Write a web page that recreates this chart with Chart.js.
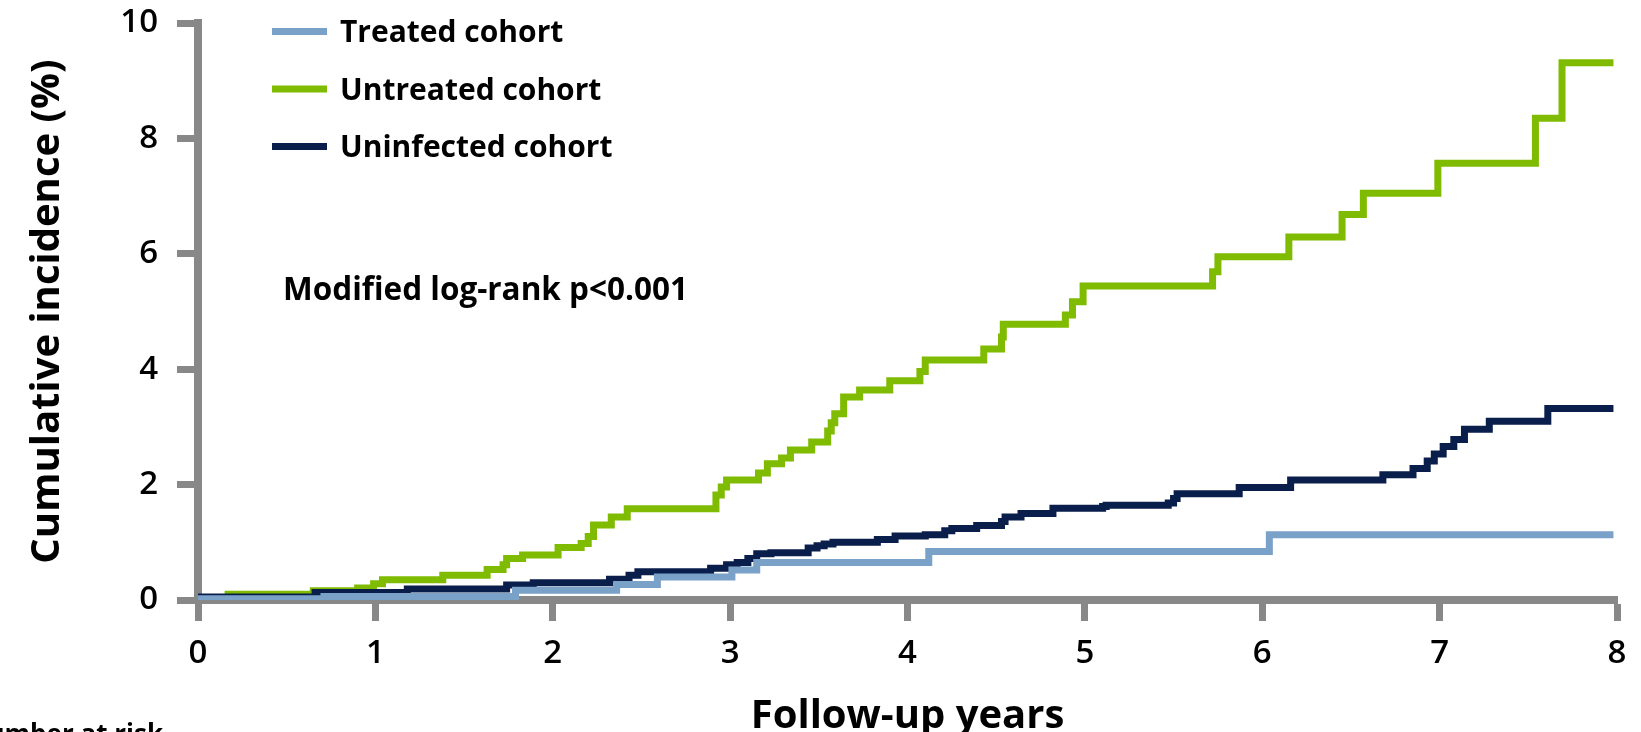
<!DOCTYPE html>
<html>
<head>
<meta charset="utf-8">
<script src="https://cdn.jsdelivr.net/npm/chart.js@4/dist/chart.umd.min.js"></script>
<style>
  html, body { margin: 0; padding: 0; background: #ffffff; overflow: hidden; }
  #wrap { position: relative; width: 1641px; height: 732px; }
</style>
</head>
<body>
<div id="wrap"><canvas id="chart" width="1641" height="732"></canvas></div>
<script>
// Cumulative incidence by cohort (Kaplan-Meier style step curves)
const seriesNames = ['Treated cohort', 'Untreated cohort', 'Uninfected cohort'];
const seriesColors = ['#7aa1c7', '#7fbb00', '#0a1e4b'];

// Event times (years) and cumulative incidence (%) after each step
const treatedYears = [0, 0.71, 1.79, 2.36, 2.59, 3.01, 3.15, 4.12, 6.04, 7.98];
const treatedPct   = [0.02, 0.06, 0.17, 0.27, 0.40, 0.52, 0.65, 0.84, 1.13, 1.13];

const untreatedYears = [0.15, 0.65, 0.90, 0.99, 1.04, 1.38, 1.63, 1.72, 1.74, 1.83,
  2.03, 2.16, 2.20, 2.23, 2.33, 2.42, 2.92, 2.95, 2.98, 3.16,
  3.21, 3.29, 3.34, 3.46, 3.55, 3.57, 3.59, 3.64, 3.73, 3.90,
  4.07, 4.10, 4.43, 4.53, 4.54, 4.89, 4.93, 4.99, 5.72, 5.75,
  6.15, 6.45, 6.57, 6.99, 7.54, 7.69, 7.98];
const untreatedPct = [0.10, 0.16, 0.21, 0.28, 0.35, 0.43, 0.53, 0.61, 0.72, 0.78,
  0.91, 0.98, 1.10, 1.30, 1.44, 1.58, 1.82, 1.96, 2.08, 2.20,
  2.36, 2.46, 2.60, 2.74, 2.93, 3.07, 3.23, 3.52, 3.64, 3.80,
  3.96, 4.16, 4.35, 4.56, 4.78, 4.94, 5.17, 5.44, 5.69, 5.95,
  6.29, 6.68, 7.05, 7.57, 8.35, 9.31, 9.31];

const uninfectedYears = [0, 0.66, 1.18, 1.74, 1.89, 2.32, 2.43, 2.48, 2.89, 2.98,
  3.04, 3.10, 3.15, 3.23, 3.44, 3.49, 3.53, 3.58, 3.83, 3.93,
  4.10, 4.21, 4.25, 4.39, 4.53, 4.55, 4.64, 4.82, 5.10, 5.12,
  5.47, 5.50, 5.52, 5.87, 6.16, 6.68, 6.85, 6.93, 6.97, 7.02,
  7.08, 7.14, 7.28, 7.61, 7.98];
const uninfectedPct = [0.05, 0.13, 0.19, 0.26, 0.30, 0.36, 0.43, 0.49, 0.55, 0.61,
  0.65, 0.72, 0.80, 0.82, 0.90, 0.94, 0.97, 1.00, 1.05, 1.11,
  1.13, 1.20, 1.24, 1.29, 1.36, 1.44, 1.50, 1.59, 1.62, 1.64,
  1.68, 1.76, 1.84, 1.95, 2.08, 2.17, 2.28, 2.41, 2.53, 2.66,
  2.78, 2.96, 3.10, 3.32, 3.32];

const xTickValues = [0, 1, 2, 3, 4, 5, 6, 7, 8];
const yTickValues = [0, 2, 4, 6, 8, 10];

const xTitle = 'Follow-up years';
const yTitle = 'Cumulative incidence (%)';
const pValueNote = 'Modified log-rank p<0.001';
const riskTableHeading = 'Number at risk';

const FONT = '"Open Sans", "DejaVu Sans", sans-serif';
const AXIS_GREY = '#888888';

function toPoints(xs, ys) {
  return xs.map((x, i) => ({ x: x, y: ys[i] }));
}

// Legend, p-value note and the risk-table heading drawn on top of the plot
const annotations = {
  id: 'cohortAnnotations',
  afterDraw(chart) {
    const ctx = chart.ctx;
    ctx.save();
    // legend
    const legendSize = 30;
    ctx.font = 'bold ' + legendSize + 'px ' + FONT;
    ctx.textAlign = 'left';
    ctx.textBaseline = 'alphabetic';
    chart.data.datasets.forEach((ds, i) => {
      const y = 31.5 + i * 57.5;
      ctx.strokeStyle = ds.borderColor;
      ctx.lineWidth = 7;
      ctx.beginPath();
      ctx.moveTo(272, y);
      ctx.lineTo(327, y);
      ctx.stroke();
      ctx.fillStyle = '#000000';
      ctx.fillText(ds.label, 340, y + legendSize * 0.357);
    });
    // p-value note
    ctx.font = 'bold 31.5px ' + FONT;
    ctx.fillStyle = '#000000';
    ctx.fillText(pValueNote, 283, 300);
    // risk table heading, running off the lower edge
    ctx.font = 'bold 26px ' + FONT;
    ctx.textAlign = 'right';
    ctx.fillText(riskTableHeading, 163, 743);
    ctx.restore();
  }
};

const gridOpts = {
  display: true,
  drawOnChartArea: false,
  drawTicks: true,
  tickLength: 21,
  tickWidth: 7,
  tickColor: AXIS_GREY,
  color: AXIS_GREY
};
const borderOpts = { display: true, color: AXIS_GREY, width: 8 };

new Chart(document.getElementById('chart'), {
  type: 'line',
  data: {
    datasets: [
      { label: seriesNames[0], data: toPoints(treatedYears, treatedPct), borderColor: seriesColors[0], order: 1 },
      { label: seriesNames[1], data: toPoints(untreatedYears, untreatedPct), borderColor: seriesColors[1], order: 3 },
      { label: seriesNames[2], data: toPoints(uninfectedYears, uninfectedPct), borderColor: seriesColors[2], order: 2 }
    ].map(ds => Object.assign(ds, {
      borderWidth: 7,
      stepped: true,
      pointRadius: 0,
      pointHoverRadius: 0,
      fill: false,
      borderCapStyle: 'butt',
      borderJoinStyle: 'miter'
    }))
  },
  options: {
    responsive: false,
    devicePixelRatio: 1,
    animation: false,
    events: [],
    layout: { padding: { top: 23, right: 24, bottom: 0, left: 0 } },
    plugins: { legend: { display: false }, tooltip: { enabled: false } },
    scales: {
      x: {
        type: 'linear',
        min: 0,
        max: 8,
        afterBuildTicks: s => { s.ticks = xTickValues.map(v => ({ value: v })); },
        afterFit: s => { s.height = 132; s.paddingLeft = 0; s.paddingRight = 0; },
        ticks: {
          color: '#000000',
          font: { family: FONT, size: 33, weight: '600' },
          padding: 13,
          maxRotation: 0,
          autoSkip: false
        },
        grid: gridOpts,
        border: borderOpts,
        title: {
          display: true,
          text: xTitle,
          color: '#000000',
          font: { family: FONT, size: 40, weight: 'bold' },
          padding: { top: 0, bottom: -9 }
        }
      },
      y: {
        type: 'linear',
        min: 0,
        max: 10,
        afterBuildTicks: s => { s.ticks = yTickValues.map(v => ({ value: v })); },
        afterFit: s => { s.width = 198; s.paddingTop = 0; s.paddingBottom = 0; },
        ticks: {
          color: '#000000',
          font: { family: FONT, size: 33, weight: '600' },
          padding: 19,
          autoSkip: false
        },
        grid: gridOpts,
        border: borderOpts,
        title: {
          display: true,
          text: yTitle,
          color: '#000000',
          font: { family: FONT, size: 40, weight: 'bold' },
          padding: { top: 24, bottom: 0 }
        }
      }
    }
  },
  plugins: [annotations]
});
</script>
</body>
</html>
